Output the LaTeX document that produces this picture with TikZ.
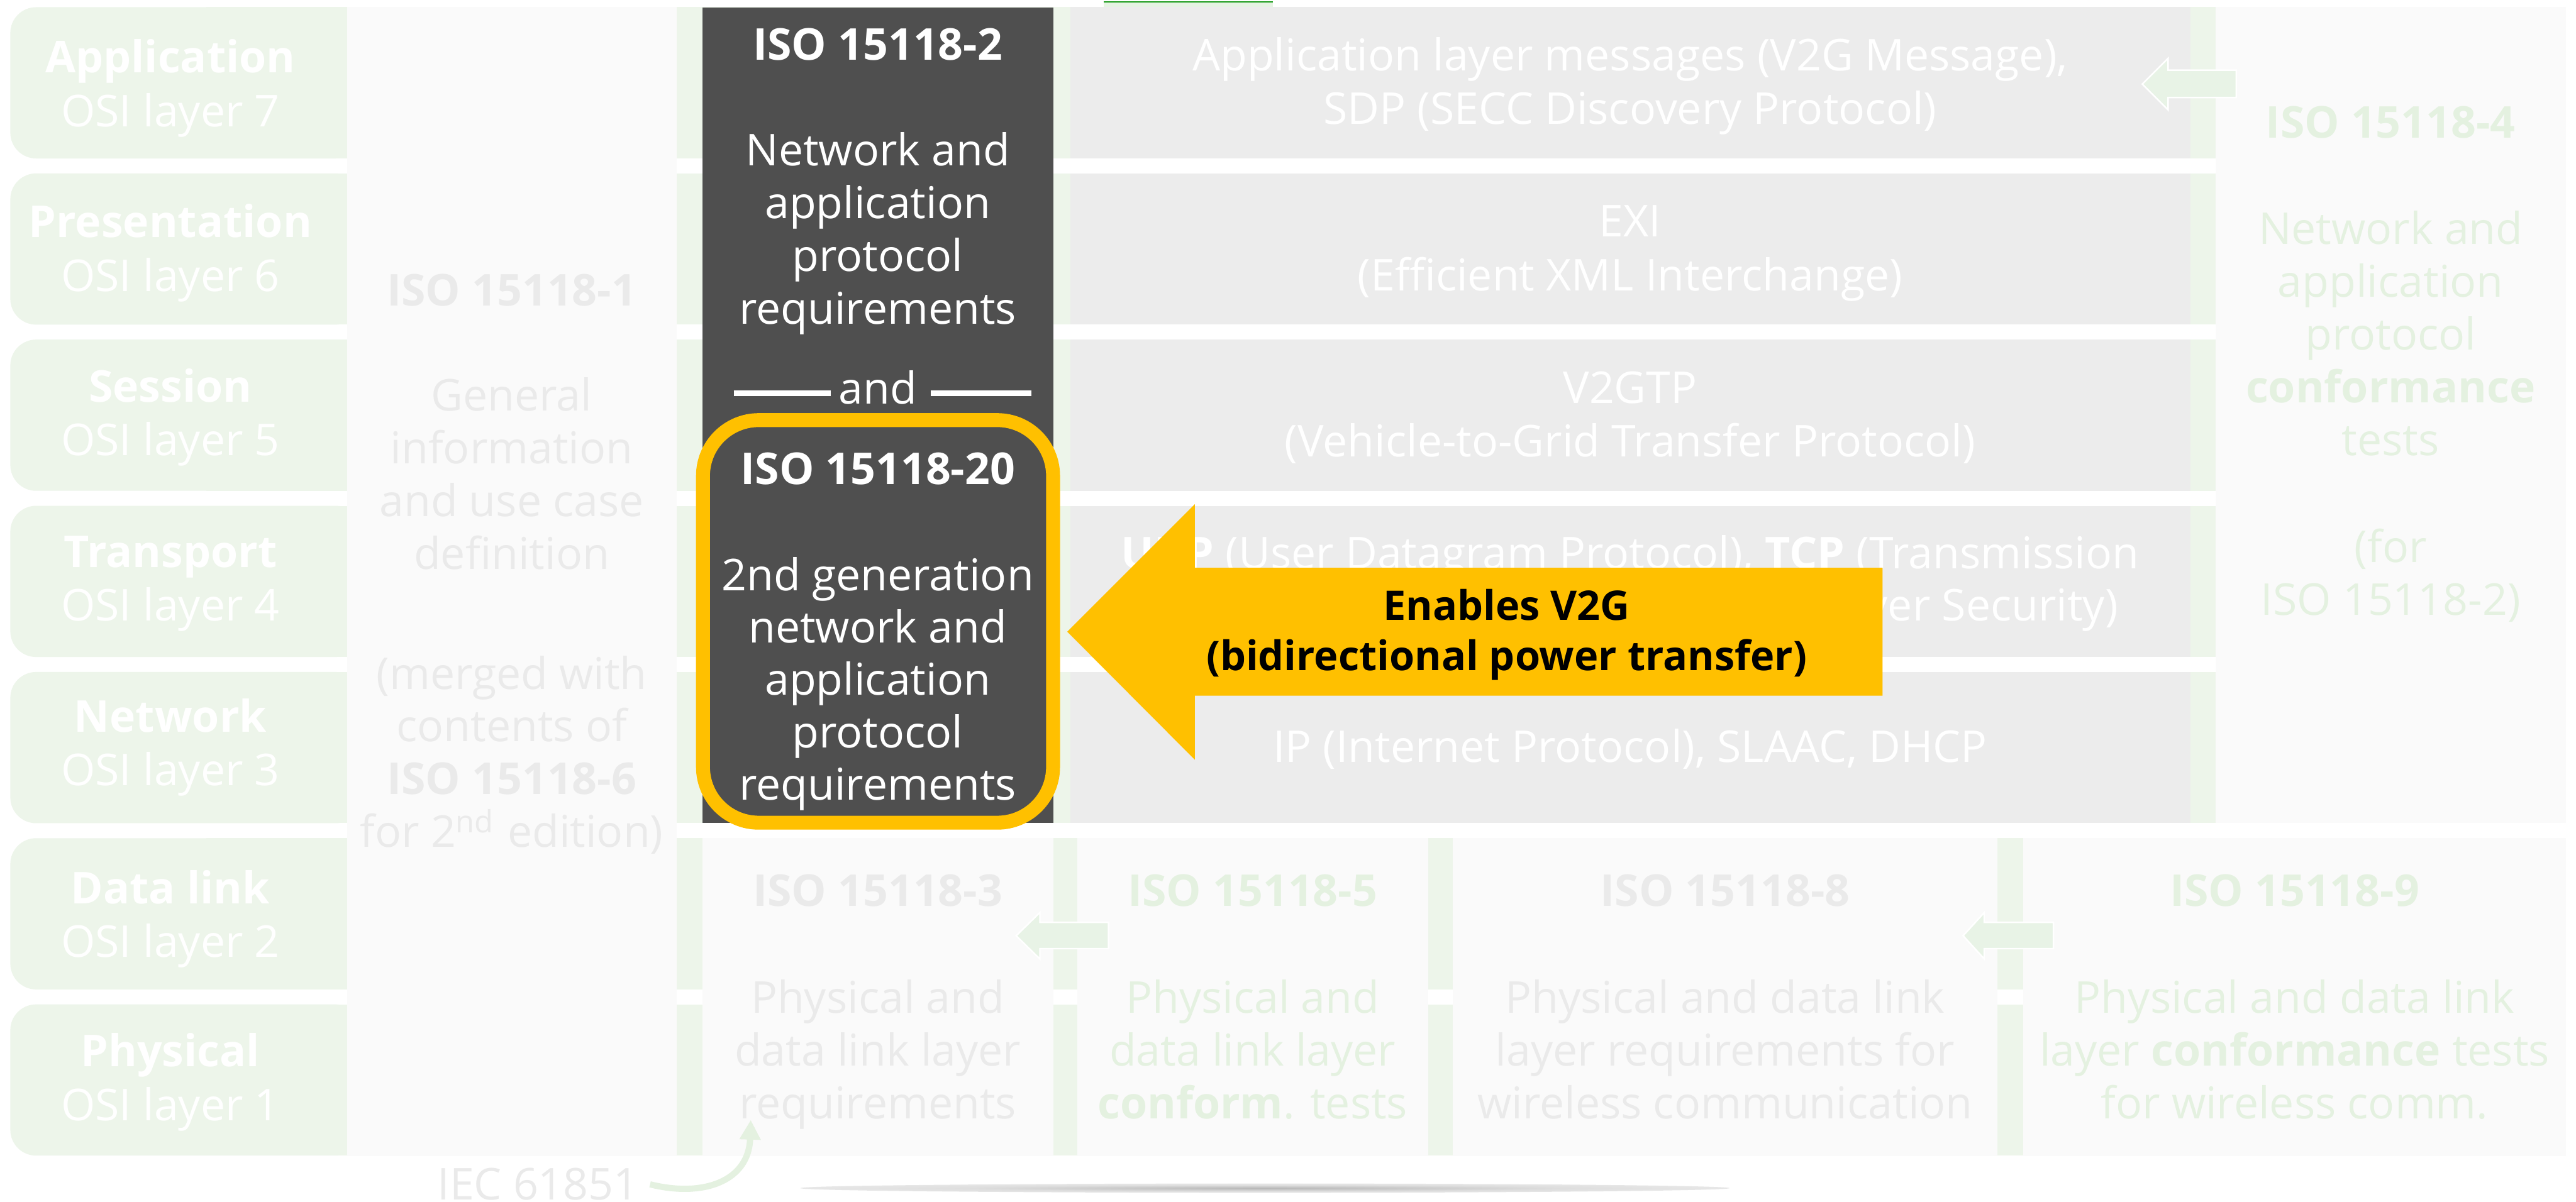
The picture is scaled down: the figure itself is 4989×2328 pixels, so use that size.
\documentclass[tikz,border=0pt]{standalone}
\usepackage{fontspec}
\setmainfont{Open Sans}
\usetikzlibrary{arrows.meta}

\definecolor{bandgreen}{HTML}{EDF5EA}
\definecolor{colbg}{HTML}{FAFAFA}
\definecolor{graybox}{HTML}{ECECEC}
\definecolor{darkbox}{HTML}{4F4F4F}
\definecolor{accent}{HTML}{FFC000}
\definecolor{softgray}{HTML}{EAEAEA}
\definecolor{softgreen}{HTML}{E4F1E0}
\definecolor{arrowgreen}{HTML}{E8F3E6}
\definecolor{topgreen}{HTML}{E6F3E3}
\definecolor{linegreen}{HTML}{1A9A1A}

\pgfdeclareradialshading{softshadow}{\pgfpoint{0bp}{0bp}}{%
  color(0bp)=(black!28); color(16bp)=(black!13); color(50bp)=(white)}

% one node per text line: name prefix, style, x, first baseline, line pitch, lines
\newcommand\linesat[6]{%
  \foreach \ln [count=\k from 0] in {#6}{%
    \node[#2] (#1-\k) at (#3,{#4+\k*#5}) {\ln};}}

\tikzset{
  txt/.style={inner sep=0pt, anchor=base, font=\fontsize{8.5}{10}\selectfont},
  whitetxt/.style={txt, text=white},
  graytxt/.style={txt, text=softgray},
  greentxt/.style={txt, text=softgreen},
  arrowtxt/.style={inner sep=0pt, anchor=base, text=black,
    font=\fontsize{7.9}{9.5}\selectfont\bfseries},
  smallarrow/.style={fill=arrowgreen, draw=white, line width=0.3pt},
}

\begin{document}
\begin{tikzpicture}[x=0.1pt,y=-0.1pt]
\useasboundingbox (0,0) rectangle (4989,2328);
\fill[white] (0,0) rectangle (4989,2328);

% OSI layer bands
\foreach \t in {14,336,658,980,1302,1624,1946}{
  \fill[bandgreen, rounded corners=5pt] (20,\t) rectangle (700,{\t+293});
  \fill[bandgreen] (400,\t) rectangle (4970,{\t+293});
}

% element cut at the top edge
\fill[topgreen] (2138,2) rectangle (2465,14);
\fill[linegreen] (2138,2) rectangle (2465,5);

% side columns
\fill[colbg] (672,14) rectangle (1311,2240);
\fill[colbg] (4291,14) rectangle (4970,1595);

% protocol boxes of layers 7 to 3
\foreach \t in {14,336,658,980,1302}{
  \fill[graybox] (2073,\t) rectangle (4242,{\t+293});
}

% physical / data link parts
\fill[colbg] (1361,1624) rectangle (2040,2240);
\fill[colbg] (2087,1624) rectangle (2766,2240);
\fill[colbg] (2814,1624) rectangle (3869,2240);
\fill[colbg] (3918,1624) rectangle (4970,2240);

% ISO 15118-2 and ISO 15118-20
\fill[darkbox] (1361,15) rectangle (2040,1594);
\draw[accent, line width=2.7pt, fill=darkbox, rounded corners=10.8pt]
  (1361.5,814) rectangle (2039.5,1594);

% OSI labels
\linesat{osi7}{whitetxt}{330}{141}{104}{\textbf{Application},OSI layer 7}
\linesat{osi6}{whitetxt}{330}{460}{104}{\textbf{Presentation},OSI layer 6}
\linesat{osi5}{whitetxt}{330}{779}{104}{\textbf{Session},OSI layer 5}
\linesat{osi4}{whitetxt}{330}{1099}{104}{\textbf{Transport},OSI layer 4}
\linesat{osi3}{whitetxt}{330}{1418}{104}{\textbf{Network},OSI layer 3}
\linesat{osi2}{whitetxt}{330}{1751}{104}{\textbf{Data link},OSI layer 2}
\linesat{osi1}{whitetxt}{330}{2067}{104}{\textbf{Physical},OSI layer 1}

% ISO 15118-1
\node[graytxt] (pone) at (991,592) {\textbf{ISO 15118-1}};
\linesat{ponea}{graytxt}{991}{796}{102.3}{General,information,and use case,definition}
\linesat{poneb}{graytxt}{991}{1335}{102}{{(merged with},{contents of},{\textbf{ISO 15118-6}},{for 2\textsuperscript{nd} edition)}}

% ISO 15118-2 / -20
\node[whitetxt] (ptwo) at (1700,116) {\textbf{ISO 15118-2}};
\linesat{ptwoa}{whitetxt}{1700}{321}{102.3}{Network and,application,protocol,requirements}
\node[whitetxt] (and) at (1700,782) {and};
\draw[white, line width=1.1pt] (1421,761.5) -- (1609,761.5);
\draw[white, line width=1.1pt] (1803,761.5) -- (1998,761.5);
\node[whitetxt] (ptw) at (1700,939) {\textbf{ISO 15118-20}};
\linesat{ptwa}{whitetxt}{1700}{1144}{101.5}{2nd generation,network and,application,protocol,requirements}

% protocol texts
\linesat{lay7}{whitetxt}{3157}{137}{104}{{Application layer messages (V2G Message),},{SDP (SECC Discovery Protocol)}}
\linesat{lay6}{whitetxt}{3157}{459}{104}{{EXI},{(Efficient XML Interchange)}}
\linesat{lay5}{whitetxt}{3157}{781}{104}{{V2GTP},{(Vehicle-to-Grid Transfer Protocol)}}
\linesat{lay4}{whitetxt}{3157}{1102}{101}{{\textbf{UDP} (User Datagram Protocol), \textbf{TCP} (Transmission},{Control Protocol), \textbf{TLS} (Transport Layer Security)}}
\node[whitetxt] (lay3) at (3157,1477) {IP (Internet Protocol), SLAAC, DHCP};

% ISO 15118-4
\node[greentxt] (pfour) at (4630,268) {\textbf{ISO 15118-4}};
\linesat{pfoura}{greentxt}{4630}{473}{102.5}{Network and,application,protocol,\textbf{conformance},tests}
\linesat{pfourb}{greentxt}{4630}{1089}{103}{{(for},{ISO 15118-2)}}

% lower parts
\node[graytxt] (pthree) at (1700,1756) {\textbf{ISO 15118-3}};
\linesat{pthreea}{graytxt}{1700}{1963}{102}{Physical and,data link layer,requirements}
\node[greentxt] (pfive) at (2426,1756) {\textbf{ISO 15118-5}};
\linesat{pfivea}{greentxt}{2426}{1963}{102}{Physical and,data link layer,\textbf{conform}. tests}
\node[graytxt] (peight) at (3341,1756) {\textbf{ISO 15118-8}};
\linesat{peighta}{graytxt}{3341}{1963}{102}{Physical and data link,layer requirements for,wireless communication}
\node[greentxt] (pnine) at (4444,1756) {\textbf{ISO 15118-9}};
\linesat{pninea}{greentxt}{4444}{1963}{102}{Physical and data link,layer \textbf{conformance} tests,for wireless comm.}

% conformance arrows
\filldraw[smallarrow] (4149,163) -- (4199,113) -- (4199,136) -- (4331,136)
  -- (4331,189) -- (4199,189) -- (4199,213) -- cycle;
\filldraw[smallarrow] (1968,1813) -- (2014,1768) -- (2014,1787) -- (2147,1787)
  -- (2147,1838) -- (2014,1838) -- (2014,1858) -- cycle;
\filldraw[smallarrow] (3802,1813) -- (3843,1768) -- (3843,1787) -- (3977,1787)
  -- (3977,1838) -- (3843,1838) -- (3843,1858) -- cycle;

% V2G arrow
\fill[accent] (2067,1224) -- (2314,977) -- (2314,1100) -- (3646,1100)
  -- (3646,1348) -- (2314,1348) -- (2314,1472) -- cycle;
\node[arrowtxt] (v2g-0) at (2918,1202) {Enables V2G};
\node[arrowtxt] (v2g-1) at (2918,1299) {(bidirectional power transfer)};

% IEC 61851
\node[graytxt, anchor=base east] (iec) at (1239,2325) {IEC 61851};
\coordinate (iecin) at (1454,2170);
\draw[softgreen, line width=1.2pt, -{Triangle[width=3.9pt,length=3.8pt]}]
  ([xshift=2pt]iec.east) .. controls (1360,2320) and (1450,2290) .. (iecin);

% soft shadow under the diagram
\shade[shading=softshadow] (2450,2302) ellipse (900 and 9);
\end{tikzpicture}
\end{document}
